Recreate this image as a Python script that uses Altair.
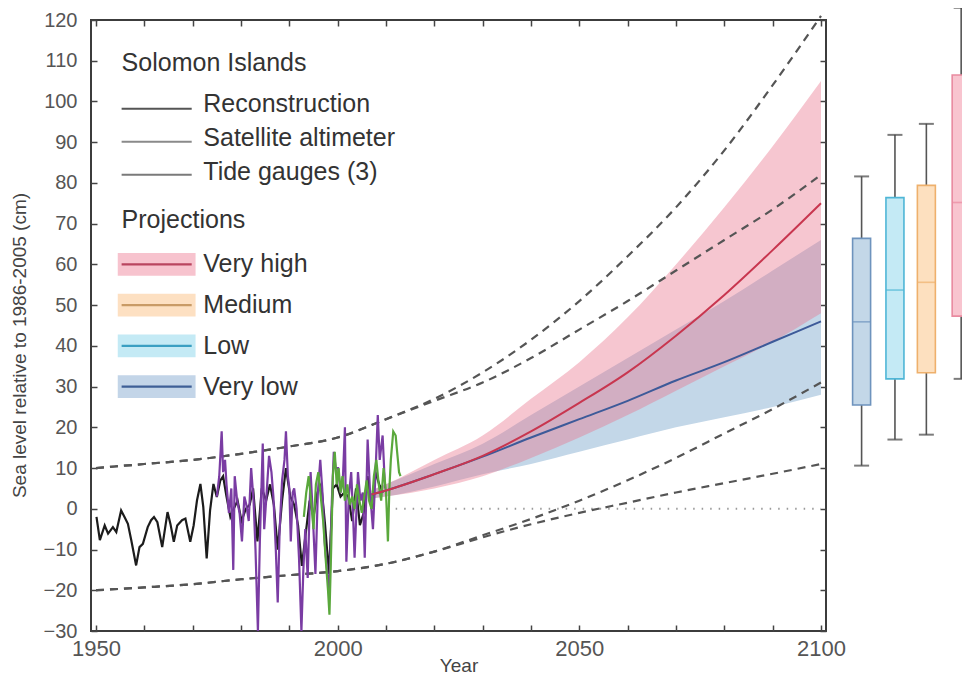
import altair as alt
import pandas as pd

FONT = "Liberation Sans, Arial, Helvetica, sans-serif"

# ---------------- observed sea level (cm) ----------------
recon_years = [1950.1, 1950.8, 1951.8, 1952.5, 1953.5, 1954.2, 1955.2, 1955.9, 1956.6, 1957.3,
               1958.3, 1959.0, 1959.7, 1960.7, 1961.4, 1962.0, 1962.7, 1963.7, 1964.8, 1965.4,
               1966.1, 1966.8, 1967.8, 1968.5, 1969.5, 1970.2, 1970.9, 1971.6, 1972.2, 1972.9,
               1973.6, 1974.3, 1975.0, 1975.7, 1976.3, 1977.0, 1977.8, 1978.5, 1979.3, 1980.1,
               1981.0, 1981.8, 1982.5, 1983.4, 1984.3, 1985.2, 1986.0, 1986.8, 1987.6, 1988.5,
               1989.3, 1990.2, 1991.0, 1991.8, 1992.6, 1993.4, 1994.2, 1995.0, 1995.8, 1996.6,
               1997.4, 1998.2, 1999.0, 1999.8, 2000.6, 2001.4, 2002.2, 2003.0, 2003.8, 2004.6,
               2005.4, 2006.2, 2007.0, 2007.8, 2008.6, 2009.4]
recon_values = [-2.0, -7.7, -4.1, -6.1, -4.5, -5.7, -0.4, -2.0, -3.7, -7.7,
                -13.9, -9.4, -8.6, -4.5, -2.8, -2.0, -3.3, -9.4, -0.8, -3.7,
                -8.1, -4.1, -2.8, -2.4, -8.1, -4.1, 2.1, 6.1, 0.4, -12.2,
                -0.4, 6.1, 2.9, 6.9, 8, 3, -2, 0, 2, -3,
                0, 1, 5, -8, 5, 2, 6, 1, -10, 2,
                10, 3, 1, -4, -14, -6, 2, -2, 4, 6,
                -4, -16, 5, 6, 3, 4, 3, -3, 5, -4,
                -1, 8, 0, 9, 6, 4]

tide_years = [1975.0, 1975.5, 1976.0, 1976.3, 1976.7, 1977.0, 1977.5, 1978.0, 1978.4, 1978.7,
              1979.2, 1979.7, 1980.2, 1980.7, 1981.1, 1981.6, 1982.1, 1982.6, 1983.0, 1983.5,
              1983.9, 1984.5, 1984.8, 1985.2, 1985.8, 1986.3, 1986.7, 1987.2, 1987.6, 1988.0,
              1988.5, 1989.0, 1989.3, 1989.7, 1990.0, 1990.3, 1990.7, 1991.0, 1991.5, 1992.0,
              1992.5, 1992.9, 1993.3, 1993.8, 1994.4, 1994.8, 1995.4, 1995.9, 1996.4, 1996.8,
              1997.3, 1997.8, 1998.3, 1998.8, 1999.2, 1999.6, 2000.1, 2000.6, 2001.1, 2001.5,
              2001.8, 2002.3, 2002.8, 2003.2, 2003.5, 2004.2, 2004.7, 2005.2, 2005.6, 2006.2,
              2006.7, 2007.3, 2007.8, 2008.3, 2008.7, 2009.3, 2009.8]
tide_values = [3, 8, 19, 9, 12, 6, -1, 5, -15, 8,
               2, -1, -8, 3, 1, -3, 10, 2, -10, -30,
               -8, 16, -5, 2, 13, 9, 3, -10, -23, -5,
               7, 12, 19, 8, 5, -8, 4, 5, 0, -12,
               -30, -15, -5, -17, 9, 0, -16, 4, 12, 5,
               -8, -15, -20, 2, 14, 10, 10, 4, 8, 20,
               -13, 3, 9, -2, -12, 9, 2, 4, -12, 17,
               4, -5, 8, 23, 12, 18, 5]

sat_years = [1993.0, 1993.5, 1994.0, 1994.5, 1995.0, 1995.5, 1996.0, 1996.5, 1997.0, 1997.5,
             1998.0, 1998.3, 1998.7, 1999.0, 1999.4, 1999.8, 2000.2, 2000.6, 2001.0, 2001.5,
             2002.0, 2002.5, 2003.0, 2003.5, 2004.0, 2004.5, 2005.0, 2005.5, 2006.0, 2006.5,
             2007.0, 2007.5, 2008.0, 2008.5, 2009.0, 2009.5, 2010.0, 2010.4, 2010.7, 2011.0,
             2011.5, 2012.0, 2012.3, 2012.7, 2013.0]
sat_values = [-2, 4, 8, 2, -5, 6, 9, 3, -3, -12,
              -20, -26, -8, 8, 14, 6, 10, 4, 8, 2,
              6, 1, 3, 0, 6, 2, -1, 3, 7, 2,
              0, 8, 12, 6, 2, 10, 4, -8, 5, 12,
              19, 18, 14, 9, 8]

# ---------------- projections (cm) ----------------
proj_years = [2007, 2010, 2020, 2030, 2040, 2050, 2060, 2070, 2080, 2090, 2100]
vhigh_median = [3.5, 4.5, 8.5, 13, 19, 26, 33.5, 42.5, 52.5, 63.5, 75]
vhigh_upper = [4.5, 6, 12, 18, 27, 36, 47, 60, 74, 89, 105]
vhigh_lower = [2.5, 3, 5, 8, 12.5, 17.5, 23, 29, 35, 41, 48]
vlow_median = [3.5, 4.5, 8.5, 12.8, 17.5, 22, 26.5, 31.5, 36, 41, 46]
vlow_upper = [4.5, 6, 11, 16, 23, 30, 37, 44, 51, 58.5, 66]
vlow_lower = [2.5, 3, 5.5, 8.5, 11, 14, 17, 20, 22.5, 25, 28]

# envelope (dashed) curves
env_years = [1950, 1960, 1970, 1980, 1990, 2000, 2010, 2020, 2030, 2040, 2050, 2060, 2070, 2080, 2090, 2100]
env_upper_high = [10, 11, 12, 13.5, 15.3, 17.5, 22, 27, 33.5, 41.5, 51, 62, 74, 88, 104, 121]
env_upper_low = [10, 11, 12, 13.5, 15.3, 17.5, 22, 26.5, 31, 37, 44, 51, 58.5, 66, 73.5, 82]
env_lower_high = [-20, -19.3, -18.5, -17.3, -16.3, -15.3, -13.5, -10.5, -6.5, -2.5, 2, 7, 12.5, 18.5, 24.5, 31]
env_lower_low = [-20, -19.3, -18.5, -17.3, -16.3, -15.3, -13.5, -10.5, -7, -3.8, -1, 1.5, 4, 6.3, 8.6, 11]

zero_years = [2012, 2100]
zero_values = [0, 0]

# 2100 box plots
box_scenarios = ["Very low", "Low", "Medium", "Very high"]
box_whisker_low = [10.6, 17, 18.2, 31.9]
box_q1 = [25.5, 31.9, 33.4, 47.3]
box_median = [45.9, 53.7, 55.6, 75.2]
box_q3 = [66.4, 76.4, 79.4, 106.5]
box_whisker_high = [81.6, 91.8, 94.5, 123]

# ---------------- layout / style (not data) ----------------
box_center_year = [2108.4, 2115.3, 2121.8, 2129.0]
BOX_FILL = {"Very low": "#c3d7e8", "Low": "#c4eaf5", "Medium": "#fde0bf", "Very high": "#f8c4cf"}
BOX_STROKE = {"Very low": "#6e93bd", "Low": "#4fb6d6", "Medium": "#eeb06c", "Very high": "#e98aa0"}

obs_legend_labels = ["Reconstruction", "Satellite altimeter", "Tide gauges (3)"]
obs_legend_text_y = [99.3, 91.0, 82.7]
obs_legend_line_y = [98.2, 90.1, 82.0]
obs_legend_color = ["#555555", "#8a8a8a", "#7a7a7a"]
proj_legend_labels = ["Very high", "Medium", "Low", "Very low"]
proj_legend_y = [60, 50, 40, 30]
proj_legend_band = ["#f7c3ce", "#fde0c2", "#c4eaf5", "#c3d5e8"]
proj_legend_line = ["#b9455f", "#c99b66", "#3a9fc2", "#3e5f96"]
LEG_LINE_X = (1955.3, 1969.8)
LEG_RECT_X = (1954.5, 1970.6)
LEG_RECT_HALF = 2.8
LEG_TEXT_X = 1972.2
legend_titles = ["Solomon Islands", "Projections"]
legend_title_y = [109.5, 71.0]

XS = alt.Scale(domain=[1950, 2100], nice=False, zero=False)
YS = alt.Scale(domain=[-30, 120], nice=False, zero=False)


def X(f, axis=None):
    return alt.X(f"{f}:Q", scale=XS, axis=axis)


def Y(f, axis=None):
    return alt.Y(f"{f}:Q", scale=YS, axis=axis)


tick_style = dict(tickColor="#444444", tickWidth=1.5, tickSize=6, domain=False, offset=-6, grid=False)

x_bottom = alt.Axis(orient="bottom", values=list(range(1950, 2101, 10)), format="d",
                    labelExpr="datum.value % 50 === 0 ? datum.label : ''",
                    labelFlush=False, labelOverlap=False, labelFontSize=22, labelFont=FONT,
                    labelColor="#555555", labelPadding=7,
                    title="Year", titleFont=FONT, titleFontSize=19, titleFontWeight="normal",
                    titleColor="#444444", titleBaseline="alphabetic", titleY=46, **tick_style)
y_left = alt.Axis(orient="left", values=list(range(-30, 121, 10)), format="d",
                  labelFlush=False, labelOverlap=False, labelFontSize=20, labelFont=FONT,
                  labelColor="#555555", labelPadding=14,
                  title="Sea level relative to 1986-2005 (cm)", titleFont=FONT, titleFontSize=19,
                  titleFontWeight="normal", titleColor="#444444", titleX=-68, titleY=325,
                  **tick_style)
x_top = alt.Axis(orient="top", values=list(range(1950, 2101, 10)), labels=False, title=None, **tick_style)
y_right = alt.Axis(orient="right", values=list(range(-30, 121, 10)), labels=False, title=None, **tick_style)

# ---------------- tables ----------------
proj_df = pd.DataFrame({"year": proj_years, "vh_med": vhigh_median, "vh_up": vhigh_upper,
                        "vh_lo": vhigh_lower, "vl_med": vlow_median, "vl_up": vlow_upper,
                        "vl_lo": vlow_lower})
env_df = pd.concat([
    pd.DataFrame({"year": env_years, "value": v, "curve": n})
    for n, v in [("uh", env_upper_high), ("ul", env_upper_low), ("lh", env_lower_high), ("ll", env_lower_low)]
])
zero_df = pd.DataFrame({"year": zero_years, "value": zero_values})
recon_df = pd.DataFrame({"year": recon_years, "value": recon_values})
tide_df = pd.DataFrame({"year": tide_years, "value": tide_values})
sat_df = pd.DataFrame({"year": sat_years, "value": sat_values})
box_df = pd.DataFrame({"scenario": box_scenarios, "x": box_center_year, "lo": box_whisker_low,
                       "q1": box_q1, "med": box_median, "q3": box_q3, "hi": box_whisker_high})
box_df["fill"] = box_df["scenario"].map(BOX_FILL)
box_df["stroke"] = box_df["scenario"].map(BOX_STROKE)

obs_leg_df = pd.DataFrame({"label": obs_legend_labels, "ty": obs_legend_text_y, "ly": obs_legend_line_y,
                           "color": obs_legend_color, "x0": LEG_LINE_X[0], "x1": LEG_LINE_X[1],
                           "tx": LEG_TEXT_X})
proj_leg_df = pd.DataFrame({"label": proj_legend_labels, "y": proj_legend_y, "band": proj_legend_band,
                            "line": proj_legend_line})
proj_leg_df["y0"] = proj_leg_df["y"] - LEG_RECT_HALF
proj_leg_df["y1"] = proj_leg_df["y"] + LEG_RECT_HALF
proj_leg_df["rx0"] = LEG_RECT_X[0]
proj_leg_df["rx1"] = LEG_RECT_X[1]
proj_leg_df["lx0"] = LEG_LINE_X[0]
proj_leg_df["lx1"] = LEG_LINE_X[1]
proj_leg_df["tx"] = LEG_TEXT_X
title_df = pd.DataFrame({"label": legend_titles, "y": legend_title_y, "x": LEG_LINE_X[0]})

# ---------------- layers ----------------
vlow_band = alt.Chart(proj_df).mark_area(color="#c3d7e8", opacity=1, interpolate="monotone").encode(
    x=X("year"), y=Y("vl_lo"), y2=alt.Y2("vl_up"))
vhigh_band = alt.Chart(proj_df).mark_area(color="#e8708a", opacity=0.4, interpolate="monotone").encode(
    x=X("year"), y=Y("vh_lo"), y2=alt.Y2("vh_up"))

zero_line = alt.Chart(zero_df).mark_line(color="#9a9a9a", strokeDash=[1.5, 7], strokeWidth=2).encode(
    x=X("year", x_bottom), y=Y("value", y_left))

env_lines = alt.Chart(env_df).mark_line(color="#555555", strokeDash=[8, 6], strokeWidth=2.2,
                                        interpolate="monotone").encode(
    x=X("year", x_top), y=Y("value", y_right), detail="curve:N")

recon_line = alt.Chart(recon_df).mark_line(color="#1c1c1c", strokeWidth=2.2).encode(x=X("year"), y=Y("value"))
tide_line = alt.Chart(tide_df).mark_line(color="#7a3ca3", strokeWidth=2.2).encode(x=X("year"), y=Y("value"))
sat_line = alt.Chart(sat_df).mark_line(color="#5aa83c", strokeWidth=2.2).encode(x=X("year"), y=Y("value"))

vlow_line = alt.Chart(proj_df).mark_line(color="#3d5a99", strokeWidth=2, interpolate="monotone").encode(
    x=X("year"), y=Y("vl_med"))
vhigh_line = alt.Chart(proj_df).mark_line(color="#c8364f", strokeWidth=2, interpolate="monotone").encode(
    x=X("year"), y=Y("vh_med"))

whisker = alt.Chart(box_df).mark_rule(color="#555555", strokeWidth=1.6).encode(
    x=X("x"), y=Y("lo"), y2=alt.Y2("hi"))
boxes = alt.Chart(box_df).mark_bar(size=18, strokeWidth=1.6).encode(
    x=X("x"), y=Y("q1"), y2=alt.Y2("q3"),
    fill=alt.Fill("fill:N", scale=None), stroke=alt.Stroke("stroke:N", scale=None))
medians = alt.Chart(box_df).mark_tick(orient="horizontal", size=18, thickness=1.6).encode(
    x=X("x"), y=Y("med"), color=alt.Color("stroke:N", scale=None))
cap_lo = alt.Chart(box_df).mark_tick(orient="horizontal", size=15, thickness=2, color="#444444").encode(
    x=X("x"), y=Y("lo"))
cap_hi = alt.Chart(box_df).mark_tick(orient="horizontal", size=15, thickness=2, color="#444444").encode(
    x=X("x"), y=Y("hi"))

# legend drawn inside the plot through the same scales
leg_titles = alt.Chart(title_df).mark_text(align="left", baseline="middle", font=FONT, fontSize=25,
                                           color="#333333").encode(x=X("x"), y=Y("y"), text="label:N")
leg_obs_lines = alt.Chart(obs_leg_df).mark_rule(strokeWidth=2).encode(
    x=X("x0"), x2=alt.X2("x1"), y=Y("ly"), color=alt.Color("color:N", scale=None))
leg_obs_text = alt.Chart(obs_leg_df).mark_text(align="left", baseline="middle", font=FONT, fontSize=25,
                                               color="#333333").encode(x=X("tx"), y=Y("ty"), text="label:N")
leg_proj_rect = alt.Chart(proj_leg_df).mark_rect().encode(
    x=X("rx0"), x2=alt.X2("rx1"), y=Y("y0"), y2=alt.Y2("y1"), fill=alt.Fill("band:N", scale=None))
leg_proj_line = alt.Chart(proj_leg_df).mark_rule(strokeWidth=2.2).encode(
    x=X("lx0"), x2=alt.X2("lx1"), y=Y("y"), color=alt.Color("line:N", scale=None))
leg_proj_text = alt.Chart(proj_leg_df).mark_text(align="left", baseline="middle", font=FONT, fontSize=25,
                                                 color="#333333").encode(x=X("tx"), y=Y("y"), text="label:N")

chart = alt.layer(
    vlow_band, vhigh_band, zero_line, env_lines,
    recon_line, tide_line, sat_line, vlow_line, vhigh_line,
    whisker, boxes, medians, cap_lo, cap_hi,
    leg_titles, leg_obs_lines, leg_obs_text, leg_proj_rect, leg_proj_line, leg_proj_text,
).resolve_axis(x="independent", y="independent").properties(
    width=735, height=611,
    autosize=alt.AutoSizeParams(type="none"),
    padding={"left": 83, "top": 12, "right": 136, "bottom": 43},
    background="white",
).configure_view(stroke="#3c3c3c", strokeWidth=2)

chart.save("out.html", embed_options={"renderer": "svg", "actions": False})
